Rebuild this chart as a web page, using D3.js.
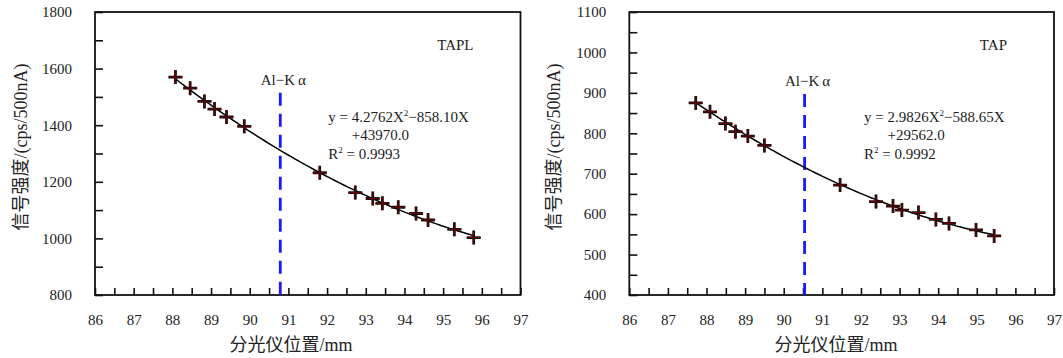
<!DOCTYPE html>
<head>
  <meta charset="utf-8">
  <style>
    body { margin: 0; background: #fff; }
    .axis text {
      font-family: "Liberation Serif", "Times New Roman", serif;
      font-size: 15px;
      fill: #222;
    }
    .axis line { stroke: #111; stroke-width: 1.6; }
    .axis path { display: none; }
    .note {
      font-family: "Liberation Serif", "Times New Roman", serif;
      font-size: 15px;
      fill: #222;
    }
    .title {
      font-family: "Liberation Serif", "Noto Sans CJK SC", serif;
      font-size: 18px;
      fill: #222;
    }
  </style>
  <script src="https://cdn.jsdelivr.net/npm/d3@7"></script>
</head>
<body>
  <script>
    // TAPL crystal
    var xTAPL = [88.08, 88.46, 88.83, 89.09, 89.40, 89.86, 91.81, 92.73, 93.18, 93.43, 93.84, 94.30, 94.61, 95.29, 95.79];
    var yTAPL = [1570, 1531, 1484, 1457, 1429, 1396, 1232, 1162, 1141, 1124, 1110, 1088, 1065, 1032, 1003];
    var fitTAPL = [4.2762, -858.10, 43970.0];

    // TAP crystal
    var xTAP = [87.72, 88.09, 88.49, 88.75, 89.07, 89.50, 91.46, 92.39, 92.83, 93.06, 93.49, 93.94, 94.28, 94.98, 95.45];
    var yTAP = [875, 853, 824, 804, 793, 770, 672, 631, 620, 610, 604, 587, 577, 561, 546];
    var fitTAP = [2.9826, -588.65, 29562.0];

    var xDomain = [86, 97];
    var xTicks = d3.range(86, 97.01, 0.5);
    var yDomainTAPL = [800, 1800];
    var yDomainTAP = [400, 1100];
    var yTicksTAPL = d3.range(800, 1801, 100);
    var yTicksTAP = d3.range(400, 1101, 50);
    var yLabelsTAPL = [800, 1000, 1200, 1400, 1600, 1800];
    var yLabelsTAP = [400, 500, 600, 700, 800, 900, 1000, 1100];

    var alKaPos = [90.79, 90.54];
    var alKaTop = [1515, 897];

    var crystals = ["TAPL", "TAP"];
    var eqLine1 = ["y = 4.2762X", "y = 2.9826X"];
    var eqLine1b = ["\u2212858.10X", "\u2212588.65X"];
    var eqLine2 = ["+43970.0", "+29562.0"];
    var rSquared = ["0.9993", "0.9992"];

    var w = 1063, h = 358;
    var svg = d3.select("body").append("svg")
      .attr("width", w)
      .attr("height", h);

    var panels = [
      { left: 95, right: 520.5, xs: xTAPL, ys: yTAPL, fit: fitTAPL,
        yDom: yDomainTAPL, yTicks: yTicksTAPL, yLabels: yLabelsTAPL, titleX: 21, xTitleX: 291 },
      { left: 629.3, right: 1054, xs: xTAP, ys: yTAP, fit: fitTAP,
        yDom: yDomainTAP, yTicks: yTicksTAP, yLabels: yLabelsTAP, titleX: 554, xTitleX: 836 }
    ];
    var plotTop = 12, plotBottom = 295;

    panels.forEach(function(p, k) {
      var x = d3.scaleLinear().domain(xDomain).range([p.left, p.right]);
      var y = d3.scaleLinear().domain(p.yDom).range([plotBottom, plotTop]);
      var g = svg.append("g");

      // x axis, ticks pointing inward
      g.append("g")
        .attr("class", "axis")
        .attr("transform", "translate(0," + plotBottom + ")")
        .call(d3.axisBottom(x)
          .tickValues(xTicks)
          .tickSize(-7)
          .tickPadding(19)
          .tickFormat(function(d) { return d % 1 === 0 ? d : ""; }));

      // y axis
      g.append("g")
        .attr("class", "axis")
        .attr("transform", "translate(" + p.left + ",0)")
        .call(d3.axisLeft(y)
          .tickValues(p.yTicks)
          .tickSize(-8)
          .tickPadding(23)
          .tickFormat(function(d) { return p.yLabels.indexOf(d) >= 0 ? d : ""; }));

      // frame
      g.append("rect")
        .attr("x", p.left)
        .attr("y", plotTop)
        .attr("width", p.right - p.left)
        .attr("height", plotBottom - plotTop)
        .attr("fill", "none")
        .attr("stroke", "#111")
        .attr("stroke-width", 1.8);

      // Al-K alpha line
      g.append("line")
        .attr("x1", x(alKaPos[k]))
        .attr("x2", x(alKaPos[k]))
        .attr("y1", y(alKaTop[k]))
        .attr("y2", plotBottom)
        .attr("stroke", "#1a1aff")
        .attr("stroke-width", 2.8)
        .attr("stroke-dasharray", "13,8");

      g.append("text")
        .attr("class", "note")
        .attr("x", x(alKaPos[k]) + 3)
        .attr("y", y(alKaTop[k]) - 8)
        .attr("text-anchor", "middle")
        .text("Al\u2212K\u2009\u03b1");

      // fitted curve from the printed equation
      var xs0 = d3.min(p.xs), xs1 = d3.max(p.xs);
      var curveX = d3.range(xs0, xs1 + 0.001, (xs1 - xs0) / 80);
      var fitY = function(v) { return p.fit[0] * v * v + p.fit[1] * v + p.fit[2]; };
      g.append("path")
        .datum(curveX)
        .attr("fill", "none")
        .attr("stroke", "#000")
        .attr("stroke-width", 1.5)
        .attr("d", d3.line()
          .x(function(d) { return x(d); })
          .y(function(d) { return y(fitY(d)); }));

      // cross markers
      var pts = p.xs.map(function(v, i) { return [v, p.ys[i]]; });
      var cross = g.selectAll("g.pt")
        .data(pts)
        .enter()
        .append("g")
        .attr("class", "pt")
        .attr("transform", function(d) { return "translate(" + x(d[0]) + "," + y(d[1]) + ")"; });
      [["#111", 2.8], ["#7a0000", 0.9]].forEach(function(s) {
        cross.append("path")
          .attr("d", "M-7,0H7M0,-7V7")
          .attr("stroke", s[0])
          .attr("stroke-width", s[1])
          .attr("fill", "none");
      });

      // crystal name
      g.append("text")
        .attr("class", "note")
        .attr("x", p.right - 47)
        .attr("y", 50)
        .attr("text-anchor", "end")
        .text(crystals[k]);

      // equation
      var eqX = k === 0 ? 328.3 : 864;
      var t1 = g.append("text").attr("class", "note").attr("x", eqX).attr("y", 122);
      t1.append("tspan").text(eqLine1[k]);
      t1.append("tspan").attr("font-size", "9px").attr("dy", -6).text("2");
      t1.append("tspan").attr("dy", 6).text(eqLine1b[k]);
      g.append("text").attr("class", "note")
        .attr("x", eqX + 23.5).attr("y", 140)
        .text(eqLine2[k]);
      var t3 = g.append("text").attr("class", "note").attr("x", eqX).attr("y", 159);
      t3.append("tspan").text("R");
      t3.append("tspan").attr("font-size", "9px").attr("dy", -6).text("2");
      t3.append("tspan").attr("dy", 6).text(" = " + rSquared[k]);

      // axis titles
      g.append("text")
        .attr("class", "title")
        .attr("transform", "translate(" + (p.titleX + 6) + ",147) rotate(-90)")
        .attr("text-anchor", "middle")
        .text("信号强度/(cps/500nA)");
      g.append("text")
        .attr("class", "title")
        .attr("x", p.xTitleX)
        .attr("y", 351)
        .attr("text-anchor", "middle")
        .text("分光仪位置/mm");
    });
  </script>
</body>
